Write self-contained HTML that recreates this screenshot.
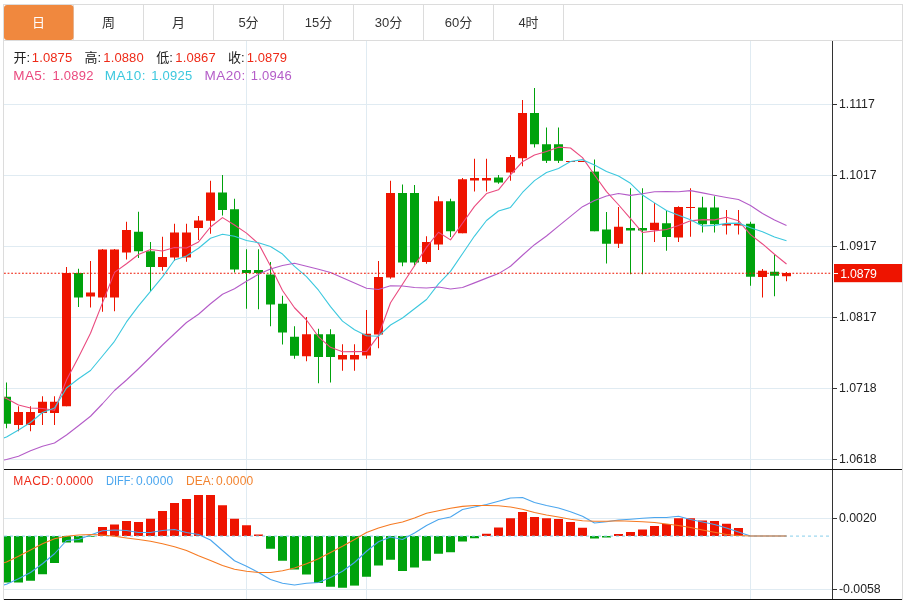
<!DOCTYPE html>
<html lang="zh"><head><meta charset="utf-8"><title>K线图</title>
<style>html,body{margin:0;padding:0;background:#fff}body{width:911px;height:600px;overflow:hidden;position:relative}svg{position:absolute;left:0;top:0;display:block}text{font-family:"Liberation Sans","Noto Sans CJK SC",sans-serif}.ax{font-size:12.3px;fill:#222}.t13{font-size:13px}.t12{font-size:12px}.tab{font-size:13px;fill:#333;text-anchor:middle}</style></head><body>
<svg width="911" height="600" viewBox="0 0 911 600">
<rect x="0" y="0" width="911" height="600" fill="#fff"/>
<g shape-rendering="crispEdges">
<rect x="3.5" y="4.5" width="899" height="600" fill="none" stroke="#dcdcdc" stroke-width="1"/>
<line x1="4" y1="40.5" x2="903" y2="40.5" stroke="#dcdcdc"/>
<line x1="73.5" y1="5" x2="73.5" y2="40" stroke="#dcdcdc"/>
<line x1="143.5" y1="5" x2="143.5" y2="40" stroke="#dcdcdc"/>
<line x1="213.5" y1="5" x2="213.5" y2="40" stroke="#dcdcdc"/>
<line x1="283.5" y1="5" x2="283.5" y2="40" stroke="#dcdcdc"/>
<line x1="353.5" y1="5" x2="353.5" y2="40" stroke="#dcdcdc"/>
<line x1="423.5" y1="5" x2="423.5" y2="40" stroke="#dcdcdc"/>
<line x1="493.5" y1="5" x2="493.5" y2="40" stroke="#dcdcdc"/>
<line x1="563.5" y1="5" x2="563.5" y2="40" stroke="#dcdcdc"/>
<line x1="4" y1="104.5" x2="832" y2="104.5" stroke="#e0ebf2"/>
<line x1="4" y1="175.5" x2="832" y2="175.5" stroke="#e0ebf2"/>
<line x1="4" y1="246.5" x2="832" y2="246.5" stroke="#e0ebf2"/>
<line x1="4" y1="317.5" x2="832" y2="317.5" stroke="#e0ebf2"/>
<line x1="4" y1="388.5" x2="832" y2="388.5" stroke="#e0ebf2"/>
<line x1="4" y1="459.5" x2="832" y2="459.5" stroke="#e0ebf2"/>
<line x1="4" y1="518.5" x2="832" y2="518.5" stroke="#e0ebf2"/>
<line x1="4" y1="589.5" x2="832" y2="589.5" stroke="#e0ebf2"/>
<line x1="246.5" y1="41" x2="246.5" y2="599" stroke="#e0ebf2"/>
<line x1="366.5" y1="41" x2="366.5" y2="599" stroke="#e0ebf2"/>
<line x1="750.5" y1="41" x2="750.5" y2="599" stroke="#e0ebf2"/>
</g>
<rect x="4" y="5" width="69.5" height="35" rx="3" ry="3" fill="#f0883e"/>
<text class="tab" x="38.5" y="26.8" fill="#fff" style="fill:#fff">日</text>
<text class="tab" x="108.5" y="26.8">周</text>
<text class="tab" x="178.5" y="26.8">月</text>
<text class="tab" x="248.5" y="26.8">5分</text>
<text class="tab" x="318.5" y="26.8">15分</text>
<text class="tab" x="388.5" y="26.8">30分</text>
<text class="tab" x="458.5" y="26.8">60分</text>
<text class="tab" x="528.5" y="26.8">4时</text>
<clipPath id="cp"><rect x="4" y="41" width="828" height="559"/></clipPath>
<g clip-path="url(#cp)">
<rect x="2.0" y="536" width="9" height="46.5" fill="#00a20c"/>
<rect x="14.0" y="536" width="9" height="46.5" fill="#00a20c"/>
<rect x="26.0" y="536" width="9" height="44.75" fill="#00a20c"/>
<rect x="38.0" y="536" width="9" height="38.25" fill="#00a20c"/>
<rect x="50.0" y="536" width="9" height="27" fill="#00a20c"/>
<rect x="62.0" y="536" width="9" height="6.5" fill="#00a20c"/>
<rect x="74.0" y="536" width="9" height="6.5" fill="#00a20c"/>
<rect x="86.0" y="536" width="9" height="0.75" fill="#00a20c"/>
<rect x="98.0" y="527" width="9" height="9" fill="#ee1400"/>
<rect x="110.0" y="524.5" width="9" height="11.5" fill="#ee1400"/>
<rect x="122.0" y="521" width="9" height="15" fill="#ee1400"/>
<rect x="134.0" y="522" width="9" height="14" fill="#ee1400"/>
<rect x="146.0" y="518.75" width="9" height="17.25" fill="#ee1400"/>
<rect x="158.0" y="511" width="9" height="25" fill="#ee1400"/>
<rect x="170.0" y="503" width="9" height="33" fill="#ee1400"/>
<rect x="182.0" y="499" width="9" height="37" fill="#ee1400"/>
<rect x="194.0" y="495" width="9" height="41" fill="#ee1400"/>
<rect x="206.0" y="495" width="9" height="41" fill="#ee1400"/>
<rect x="218.0" y="505.25" width="9" height="30.75" fill="#ee1400"/>
<rect x="230.0" y="518.75" width="9" height="17.25" fill="#ee1400"/>
<rect x="242.0" y="525.25" width="9" height="10.75" fill="#ee1400"/>
<rect x="254.0" y="534.5" width="9" height="1.5" fill="#ee1400"/>
<rect x="266.0" y="536" width="9" height="12.75" fill="#00a20c"/>
<rect x="278.0" y="536" width="9" height="24.75" fill="#00a20c"/>
<rect x="290.0" y="536" width="9" height="33.5" fill="#00a20c"/>
<rect x="302.0" y="536" width="9" height="38.5" fill="#00a20c"/>
<rect x="314.0" y="536" width="9" height="47" fill="#00a20c"/>
<rect x="326.0" y="536" width="9" height="50.75" fill="#00a20c"/>
<rect x="338.0" y="536" width="9" height="51.75" fill="#00a20c"/>
<rect x="350.0" y="536" width="9" height="49.60000000000002" fill="#00a20c"/>
<rect x="362.0" y="536" width="9" height="40.75" fill="#00a20c"/>
<rect x="374.0" y="536" width="9" height="29.5" fill="#00a20c"/>
<rect x="386.0" y="536" width="9" height="23.75" fill="#00a20c"/>
<rect x="398.0" y="536" width="9" height="35" fill="#00a20c"/>
<rect x="410.0" y="536" width="9" height="31.5" fill="#00a20c"/>
<rect x="422.0" y="536" width="9" height="24.75" fill="#00a20c"/>
<rect x="434.0" y="536" width="9" height="17.75" fill="#00a20c"/>
<rect x="446.0" y="536" width="9" height="16.25" fill="#00a20c"/>
<rect x="458.0" y="536" width="9" height="5.5" fill="#00a20c"/>
<rect x="470.0" y="536" width="9" height="2.25" fill="#00a20c"/>
<rect x="482.0" y="533.75" width="9" height="2.25" fill="#ee1400"/>
<rect x="494.0" y="527.5" width="9" height="8.5" fill="#ee1400"/>
<rect x="506.0" y="518.25" width="9" height="17.75" fill="#ee1400"/>
<rect x="518.0" y="512" width="9" height="24" fill="#ee1400"/>
<rect x="530.0" y="517" width="9" height="19" fill="#ee1400"/>
<rect x="542.0" y="518.25" width="9" height="17.75" fill="#ee1400"/>
<rect x="554.0" y="519" width="9" height="17" fill="#ee1400"/>
<rect x="566.0" y="522" width="9" height="14" fill="#ee1400"/>
<rect x="578.0" y="527.75" width="9" height="8.25" fill="#ee1400"/>
<rect x="590.0" y="536" width="9" height="2.5" fill="#00a20c"/>
<rect x="602.0" y="536" width="9" height="1.5" fill="#00a20c"/>
<rect x="614.0" y="534" width="9" height="2" fill="#ee1400"/>
<rect x="626.0" y="532" width="9" height="4" fill="#ee1400"/>
<rect x="638.0" y="529.5" width="9" height="6.5" fill="#ee1400"/>
<rect x="650.0" y="526" width="9" height="10" fill="#ee1400"/>
<rect x="662.0" y="524" width="9" height="12" fill="#ee1400"/>
<rect x="674.0" y="518.25" width="9" height="17.75" fill="#ee1400"/>
<rect x="686.0" y="518.25" width="9" height="17.75" fill="#ee1400"/>
<rect x="698.0" y="520.5" width="9" height="15.5" fill="#ee1400"/>
<rect x="710.0" y="521" width="9" height="15" fill="#ee1400"/>
<rect x="722.0" y="523.75" width="9" height="12.25" fill="#ee1400"/>
<rect x="734.0" y="528" width="9" height="8" fill="#ee1400"/>
</g>
<line x1="4" y1="536.1" x2="830" y2="536.1" stroke="#87ceeb" stroke-width="1" stroke-dasharray="3,3"/>
<g clip-path="url(#cp)">
<line x1="6.5" y1="382.5" x2="6.5" y2="428.25" stroke="#00a20c" stroke-width="1"/>
<rect x="2.0" y="396.75" width="9" height="27.0" fill="#00a20c"/>
<line x1="18.5" y1="406.25" x2="18.5" y2="431.25" stroke="#ee1400" stroke-width="1"/>
<rect x="14.0" y="412.0" width="9" height="13.0" fill="#ee1400"/>
<line x1="30.5" y1="406.25" x2="30.5" y2="431.25" stroke="#ee1400" stroke-width="1"/>
<rect x="26.0" y="412.0" width="9" height="13.0" fill="#ee1400"/>
<line x1="42.5" y1="396.25" x2="42.5" y2="425.0" stroke="#ee1400" stroke-width="1"/>
<rect x="38.0" y="401.75" width="9" height="11.25" fill="#ee1400"/>
<line x1="54.5" y1="396.25" x2="54.5" y2="425.0" stroke="#ee1400" stroke-width="1"/>
<rect x="50.0" y="401.75" width="9" height="11.25" fill="#ee1400"/>
<line x1="66.5" y1="267.0" x2="66.5" y2="406.25" stroke="#ee1400" stroke-width="1"/>
<rect x="62.0" y="273.0" width="9" height="133.25" fill="#ee1400"/>
<line x1="78.5" y1="268.75" x2="78.5" y2="307.0" stroke="#00a20c" stroke-width="1"/>
<rect x="74.0" y="273.0" width="9" height="24.5" fill="#00a20c"/>
<line x1="90.5" y1="261.0" x2="90.5" y2="307.5" stroke="#ee1400" stroke-width="1"/>
<rect x="86.0" y="292.5" width="9" height="4.0" fill="#ee1400"/>
<line x1="102.5" y1="249.0" x2="102.5" y2="311.75" stroke="#ee1400" stroke-width="1"/>
<rect x="98.0" y="249.5" width="9" height="48.0" fill="#ee1400"/>
<line x1="114.5" y1="249.0" x2="114.5" y2="311.25" stroke="#ee1400" stroke-width="1"/>
<rect x="110.0" y="249.5" width="9" height="48.0" fill="#ee1400"/>
<line x1="126.5" y1="221.75" x2="126.5" y2="259.5" stroke="#ee1400" stroke-width="1"/>
<rect x="122.0" y="230.0" width="9" height="22.5" fill="#ee1400"/>
<line x1="138.5" y1="211.75" x2="138.5" y2="258.0" stroke="#00a20c" stroke-width="1"/>
<rect x="134.0" y="231.75" width="9" height="19.5" fill="#00a20c"/>
<line x1="150.5" y1="242.0" x2="150.5" y2="291.0" stroke="#00a20c" stroke-width="1"/>
<rect x="146.0" y="251.25" width="9" height="15.75" fill="#00a20c"/>
<line x1="162.5" y1="236.75" x2="162.5" y2="270.75" stroke="#ee1400" stroke-width="1"/>
<rect x="158.0" y="257.0" width="9" height="10.0" fill="#ee1400"/>
<line x1="174.5" y1="223.75" x2="174.5" y2="261.0" stroke="#ee1400" stroke-width="1"/>
<rect x="170.0" y="232.5" width="9" height="25.0" fill="#ee1400"/>
<line x1="186.5" y1="223.75" x2="186.5" y2="261.75" stroke="#ee1400" stroke-width="1"/>
<rect x="182.0" y="232.5" width="9" height="25.0" fill="#ee1400"/>
<line x1="198.5" y1="216.0" x2="198.5" y2="240.0" stroke="#ee1400" stroke-width="1"/>
<rect x="194.0" y="220.5" width="9" height="7.5" fill="#ee1400"/>
<line x1="210.5" y1="180.75" x2="210.5" y2="233.75" stroke="#ee1400" stroke-width="1"/>
<rect x="206.0" y="192.5" width="9" height="28.25" fill="#ee1400"/>
<line x1="222.5" y1="175.0" x2="222.5" y2="215.5" stroke="#00a20c" stroke-width="1"/>
<rect x="218.0" y="192.5" width="9" height="17.5" fill="#00a20c"/>
<line x1="234.5" y1="198.75" x2="234.5" y2="272.5" stroke="#00a20c" stroke-width="1"/>
<rect x="230.0" y="209.25" width="9" height="60.25" fill="#00a20c"/>
<line x1="246.5" y1="249.25" x2="246.5" y2="308.75" stroke="#00a20c" stroke-width="1"/>
<rect x="242.0" y="270.0" width="9" height="3.0" fill="#00a20c"/>
<line x1="258.5" y1="249.25" x2="258.5" y2="309.25" stroke="#00a20c" stroke-width="1"/>
<rect x="254.0" y="270.0" width="9" height="3.0" fill="#00a20c"/>
<line x1="270.5" y1="262.0" x2="270.5" y2="326.25" stroke="#00a20c" stroke-width="1"/>
<rect x="266.0" y="274.5" width="9" height="30.0" fill="#00a20c"/>
<line x1="282.5" y1="295.75" x2="282.5" y2="344.5" stroke="#00a20c" stroke-width="1"/>
<rect x="278.0" y="303.75" width="9" height="28.75" fill="#00a20c"/>
<line x1="294.5" y1="326.25" x2="294.5" y2="358.75" stroke="#00a20c" stroke-width="1"/>
<rect x="290.0" y="336.75" width="9" height="19.0" fill="#00a20c"/>
<line x1="306.5" y1="317.0" x2="306.5" y2="361.25" stroke="#ee1400" stroke-width="1"/>
<rect x="302.0" y="334.25" width="9" height="22.0" fill="#ee1400"/>
<line x1="318.5" y1="328.75" x2="318.5" y2="383.25" stroke="#00a20c" stroke-width="1"/>
<rect x="314.0" y="334.25" width="9" height="22.75" fill="#00a20c"/>
<line x1="330.5" y1="329.25" x2="330.5" y2="382.5" stroke="#00a20c" stroke-width="1"/>
<rect x="326.0" y="334.25" width="9" height="22.75" fill="#00a20c"/>
<line x1="342.5" y1="344.25" x2="342.5" y2="370.75" stroke="#ee1400" stroke-width="1"/>
<rect x="338.0" y="355.0" width="9" height="4.5" fill="#ee1400"/>
<line x1="354.5" y1="344.25" x2="354.5" y2="370.75" stroke="#ee1400" stroke-width="1"/>
<rect x="350.0" y="355.0" width="9" height="4.5" fill="#ee1400"/>
<line x1="366.5" y1="310.0" x2="366.5" y2="358.75" stroke="#ee1400" stroke-width="1"/>
<rect x="362.0" y="333.75" width="9" height="21.75" fill="#ee1400"/>
<line x1="378.5" y1="261.0" x2="378.5" y2="348.25" stroke="#ee1400" stroke-width="1"/>
<rect x="374.0" y="277.0" width="9" height="57.5" fill="#ee1400"/>
<line x1="390.5" y1="180.75" x2="390.5" y2="278.75" stroke="#ee1400" stroke-width="1"/>
<rect x="386.0" y="193.0" width="9" height="84.5" fill="#ee1400"/>
<line x1="402.5" y1="184.5" x2="402.5" y2="266.25" stroke="#00a20c" stroke-width="1"/>
<rect x="398.0" y="193.0" width="9" height="69.5" fill="#00a20c"/>
<line x1="414.5" y1="185.0" x2="414.5" y2="266.25" stroke="#00a20c" stroke-width="1"/>
<rect x="410.0" y="193.0" width="9" height="69.5" fill="#00a20c"/>
<line x1="426.5" y1="236.25" x2="426.5" y2="263.75" stroke="#ee1400" stroke-width="1"/>
<rect x="422.0" y="242.0" width="9" height="20.0" fill="#ee1400"/>
<line x1="438.5" y1="196.25" x2="438.5" y2="250.0" stroke="#ee1400" stroke-width="1"/>
<rect x="434.0" y="201.25" width="9" height="43.25" fill="#ee1400"/>
<line x1="450.5" y1="198.75" x2="450.5" y2="237.0" stroke="#00a20c" stroke-width="1"/>
<rect x="446.0" y="201.25" width="9" height="30.0" fill="#00a20c"/>
<line x1="462.5" y1="178.0" x2="462.5" y2="233.25" stroke="#ee1400" stroke-width="1"/>
<rect x="458.0" y="179.25" width="9" height="54.0" fill="#ee1400"/>
<line x1="474.5" y1="158.75" x2="474.5" y2="191.5" stroke="#ee1400" stroke-width="1"/>
<rect x="470.0" y="178.0" width="9" height="2.5" fill="#ee1400"/>
<line x1="486.5" y1="158.75" x2="486.5" y2="191.5" stroke="#ee1400" stroke-width="1"/>
<rect x="482.0" y="178.0" width="9" height="2.5" fill="#ee1400"/>
<line x1="498.5" y1="175.0" x2="498.5" y2="183.75" stroke="#00a20c" stroke-width="1"/>
<rect x="494.0" y="177.5" width="9" height="5.0" fill="#00a20c"/>
<line x1="510.5" y1="155.0" x2="510.5" y2="180.75" stroke="#ee1400" stroke-width="1"/>
<rect x="506.0" y="157.0" width="9" height="15.5" fill="#ee1400"/>
<line x1="522.5" y1="100.0" x2="522.5" y2="166.25" stroke="#ee1400" stroke-width="1"/>
<rect x="518.0" y="113.0" width="9" height="45.25" fill="#ee1400"/>
<line x1="534.5" y1="88.0" x2="534.5" y2="147.5" stroke="#00a20c" stroke-width="1"/>
<rect x="530.0" y="113.0" width="9" height="31.25" fill="#00a20c"/>
<line x1="546.5" y1="127.5" x2="546.5" y2="163.0" stroke="#00a20c" stroke-width="1"/>
<rect x="542.0" y="144.25" width="9" height="16.55000000000001" fill="#00a20c"/>
<line x1="558.5" y1="127.5" x2="558.5" y2="163.0" stroke="#00a20c" stroke-width="1"/>
<rect x="554.0" y="144.25" width="9" height="16.55000000000001" fill="#00a20c"/>
<line x1="570.5" y1="161.0" x2="570.5" y2="162.0" stroke="#ee1400" stroke-width="1"/>
<rect x="566.0" y="161.0" width="9" height="1.0" fill="#ee1400"/>
<line x1="582.5" y1="161.0" x2="582.5" y2="162.0" stroke="#ee1400" stroke-width="1"/>
<rect x="578.0" y="161.0" width="9" height="1.0" fill="#ee1400"/>
<line x1="594.5" y1="159.5" x2="594.5" y2="231.25" stroke="#00a20c" stroke-width="1"/>
<rect x="590.0" y="171.6" width="9" height="59.650000000000006" fill="#00a20c"/>
<line x1="606.5" y1="212.0" x2="606.5" y2="263.5" stroke="#00a20c" stroke-width="1"/>
<rect x="602.0" y="229.5" width="9" height="14.25" fill="#00a20c"/>
<line x1="618.5" y1="207.0" x2="618.5" y2="248.0" stroke="#ee1400" stroke-width="1"/>
<rect x="614.0" y="226.75" width="9" height="17.0" fill="#ee1400"/>
<line x1="630.5" y1="188.25" x2="630.5" y2="274.25" stroke="#00a20c" stroke-width="1"/>
<rect x="626.0" y="228.0" width="9" height="2.5" fill="#00a20c"/>
<line x1="642.5" y1="188.25" x2="642.5" y2="274.25" stroke="#00a20c" stroke-width="1"/>
<rect x="638.0" y="228.0" width="9" height="2.5" fill="#00a20c"/>
<line x1="654.5" y1="203.0" x2="654.5" y2="242.0" stroke="#ee1400" stroke-width="1"/>
<rect x="650.0" y="222.75" width="9" height="7.25" fill="#ee1400"/>
<line x1="666.5" y1="210.5" x2="666.5" y2="250.75" stroke="#00a20c" stroke-width="1"/>
<rect x="662.0" y="223.25" width="9" height="13.75" fill="#00a20c"/>
<line x1="678.5" y1="206.25" x2="678.5" y2="242.0" stroke="#ee1400" stroke-width="1"/>
<rect x="674.0" y="207.0" width="9" height="30.5" fill="#ee1400"/>
<line x1="690.5" y1="188.25" x2="690.5" y2="236.75" stroke="#ee1400" stroke-width="1"/>
<rect x="686.0" y="207.0" width="9" height="1.0" fill="#ee1400"/>
<line x1="702.5" y1="196.75" x2="702.5" y2="232.5" stroke="#00a20c" stroke-width="1"/>
<rect x="698.0" y="207.5" width="9" height="16.75" fill="#00a20c"/>
<line x1="714.5" y1="196.25" x2="714.5" y2="232.5" stroke="#00a20c" stroke-width="1"/>
<rect x="710.0" y="207.5" width="9" height="16.75" fill="#00a20c"/>
<line x1="726.5" y1="210.0" x2="726.5" y2="234.5" stroke="#ee1400" stroke-width="1"/>
<rect x="722.0" y="224.0" width="9" height="1.5" fill="#ee1400"/>
<line x1="738.5" y1="210.0" x2="738.5" y2="234.5" stroke="#ee1400" stroke-width="1"/>
<rect x="734.0" y="224.0" width="9" height="1.5" fill="#ee1400"/>
<line x1="750.5" y1="221.75" x2="750.5" y2="285.75" stroke="#00a20c" stroke-width="1"/>
<rect x="746.0" y="223.75" width="9" height="53.0" fill="#00a20c"/>
<line x1="762.5" y1="269.0" x2="762.5" y2="297.5" stroke="#ee1400" stroke-width="1"/>
<rect x="758.0" y="270.75" width="9" height="6.25" fill="#ee1400"/>
<line x1="774.5" y1="254.5" x2="774.5" y2="296.25" stroke="#00a20c" stroke-width="1"/>
<rect x="770.0" y="271.75" width="9" height="4.0" fill="#00a20c"/>
<line x1="786.5" y1="272.0" x2="786.5" y2="281.25" stroke="#ee1400" stroke-width="1"/>
<rect x="782.0" y="273.0" width="9" height="3.25" fill="#ee1400"/>
</g>
<g clip-path="url(#cp)">
<path d="M-5.5,394.00 L6.5,398.50 L18.5,405.00 L30.5,408.00 L42.5,408.50 L54.5,410.25 L66.5,380.10 L78.5,357.20 L90.5,333.30 L102.5,302.85 L114.5,272.40 L126.5,263.80 L138.5,254.55 L150.5,249.45 L162.5,250.95 L174.5,247.55 L186.5,248.05 L198.5,241.90 L210.5,227.00 L222.5,217.60 L234.5,225.00 L246.5,233.10 L258.5,243.60 L270.5,266.00 L282.5,290.50 L294.5,307.75 L306.5,320.00 L318.5,336.80 L330.5,347.30 L342.5,351.80 L354.5,351.65 L366.5,351.55 L378.5,335.55 L390.5,302.75 L402.5,284.25 L414.5,265.75 L426.5,247.40 L438.5,232.25 L450.5,239.90 L462.5,223.25 L474.5,206.35 L486.5,193.55 L498.5,189.80 L510.5,174.95 L522.5,161.70 L534.5,154.95 L546.5,151.51 L558.5,147.17 L570.5,147.97 L582.5,157.57 L594.5,174.97 L606.5,191.56 L618.5,204.75 L630.5,218.65 L642.5,232.55 L654.5,230.85 L666.5,229.50 L678.5,225.55 L690.5,220.85 L702.5,219.60 L714.5,219.90 L726.5,217.30 L738.5,220.70 L750.5,234.65 L762.5,243.95 L774.5,254.25 L786.5,264.05" fill="none" stroke="#ea4a7f" stroke-width="1.1" stroke-linejoin="round"/>
<path d="M-5.5,441.00 L6.5,437.00 L18.5,430.00 L30.5,422.50 L42.5,412.50 L54.5,408.00 L66.5,388.00 L78.5,378.75 L90.5,370.50 L102.5,356.00 L114.5,341.32 L126.5,321.95 L138.5,305.88 L150.5,291.38 L162.5,276.90 L174.5,259.98 L186.5,255.93 L198.5,248.22 L210.5,238.22 L222.5,234.28 L234.5,236.28 L246.5,240.57 L258.5,242.75 L270.5,246.50 L282.5,254.05 L294.5,266.38 L306.5,276.55 L318.5,290.20 L330.5,306.65 L342.5,321.15 L354.5,329.70 L366.5,335.77 L378.5,336.18 L390.5,325.02 L402.5,318.02 L414.5,308.70 L426.5,299.48 L438.5,283.90 L450.5,271.32 L462.5,253.75 L474.5,236.05 L486.5,220.47 L498.5,211.03 L510.5,207.43 L522.5,192.47 L534.5,180.65 L546.5,172.53 L558.5,168.48 L570.5,161.46 L582.5,159.63 L594.5,164.96 L606.5,171.53 L618.5,175.96 L630.5,183.31 L642.5,195.06 L654.5,202.91 L666.5,210.53 L678.5,215.15 L690.5,219.75 L702.5,226.07 L714.5,225.38 L726.5,223.40 L738.5,223.12 L750.5,227.75 L762.5,231.78 L774.5,237.07 L786.5,240.68" fill="none" stroke="#3cc8de" stroke-width="1.1" stroke-linejoin="round"/>
<path d="M-5.5,462.00 L6.5,459.50 L18.5,456.25 L30.5,450.75 L42.5,446.25 L54.5,443.00 L66.5,435.00 L78.5,425.75 L90.5,416.25 L102.5,403.75 L114.5,390.50 L126.5,380.00 L138.5,368.75 L150.5,357.00 L162.5,345.00 L174.5,333.75 L186.5,322.50 L198.5,314.25 L210.5,303.75 L222.5,294.25 L234.5,288.80 L246.5,281.26 L258.5,274.31 L270.5,268.94 L282.5,265.48 L294.5,263.18 L306.5,266.24 L318.5,269.21 L330.5,272.44 L342.5,277.71 L354.5,282.99 L366.5,288.18 L378.5,289.46 L390.5,285.76 L402.5,286.04 L414.5,287.54 L426.5,288.01 L438.5,287.05 L450.5,288.99 L462.5,287.45 L474.5,282.88 L486.5,278.12 L498.5,273.60 L510.5,266.23 L522.5,255.25 L534.5,244.68 L546.5,236.00 L558.5,226.19 L570.5,216.39 L582.5,206.69 L594.5,200.50 L606.5,196.00 L618.5,193.49 L630.5,195.37 L642.5,193.77 L654.5,191.78 L666.5,191.53 L678.5,191.82 L690.5,190.60 L702.5,192.85 L714.5,195.17 L726.5,197.47 L738.5,199.54 L750.5,205.53 L762.5,213.42 L774.5,219.99 L786.5,225.60" fill="none" stroke="#b45cc8" stroke-width="1.1" stroke-linejoin="round"/>
<path d="M-5.5,587.00 L6.5,584.25 L18.5,578.75 L30.5,572.50 L42.5,563.75 L54.5,553.75 L66.5,540.50 L78.5,539.50 L90.5,535.00 L102.5,530.75 L114.5,530.00 L126.5,530.50 L138.5,532.50 L150.5,532.50 L162.5,530.50 L174.5,529.50 L186.5,532.50 L198.5,534.50 L210.5,540.00 L222.5,550.50 L234.5,560.75 L246.5,566.25 L258.5,572.50 L270.5,579.50 L282.5,583.25 L294.5,585.00 L306.5,583.25 L318.5,582.50 L330.5,577.50 L342.5,571.25 L354.5,562.50 L366.5,551.25 L378.5,541.75 L390.5,537.00 L402.5,539.50 L414.5,533.00 L426.5,525.50 L438.5,519.50 L450.5,517.00 L462.5,509.50 L474.5,507.00 L486.5,504.50 L498.5,501.25 L510.5,498.00 L522.5,497.50 L534.5,502.50 L546.5,505.50 L558.5,508.00 L570.5,511.75 L582.5,516.25 L594.5,523.00 L606.5,521.75 L618.5,520.00 L630.5,519.25 L642.5,518.25 L654.5,517.50 L666.5,517.50 L678.5,516.25 L690.5,519.50 L702.5,522.00 L714.5,524.50 L726.5,528.00 L738.5,532.00 L750.5,536.00 L762.5,536.00 L774.5,536.00 L786.5,536.00" fill="none" stroke="#4ba6ee" stroke-width="1.1" stroke-linejoin="round"/>
<path d="M-5.5,565.50 L6.5,562.00 L18.5,556.25 L30.5,550.00 L42.5,543.75 L54.5,538.75 L66.5,536.25 L78.5,535.00 L90.5,534.50 L102.5,535.00 L114.5,536.25 L126.5,538.00 L138.5,539.50 L150.5,541.25 L162.5,543.75 L174.5,546.75 L186.5,550.50 L198.5,555.75 L210.5,560.50 L222.5,565.50 L234.5,569.25 L246.5,571.25 L258.5,572.50 L270.5,572.50 L282.5,570.75 L294.5,568.00 L306.5,563.75 L318.5,558.75 L330.5,552.50 L342.5,546.25 L354.5,539.50 L366.5,532.50 L378.5,528.00 L390.5,524.50 L402.5,522.00 L414.5,518.00 L426.5,513.25 L438.5,510.80 L450.5,508.20 L462.5,506.40 L474.5,505.50 L486.5,505.50 L498.5,505.75 L510.5,507.00 L522.5,509.25 L534.5,512.50 L546.5,515.00 L558.5,517.00 L570.5,519.25 L582.5,520.75 L594.5,521.25 L606.5,521.25 L618.5,520.75 L630.5,521.25 L642.5,521.75 L654.5,522.50 L666.5,524.00 L678.5,525.50 L690.5,527.50 L702.5,530.00 L714.5,532.25 L726.5,534.50 L738.5,535.50 L750.5,536.00 L762.5,536.00 L774.5,536.00 L786.5,536.00" fill="none" stroke="#f67a22" stroke-width="1.1" stroke-linejoin="round"/>
</g>
<line x1="4" y1="273.25" x2="832" y2="273.25" stroke="#ee1400" stroke-width="1.1" stroke-dasharray="1.8,1.8"/>
<g shape-rendering="crispEdges">
<line x1="832.5" y1="41" x2="832.5" y2="600" stroke="#333"/>
<line x1="4" y1="469.5" x2="902" y2="469.5" stroke="#111"/>
<line x1="4" y1="599.5" x2="902" y2="599.5" stroke="#111"/>
<line x1="833" y1="104.5" x2="837" y2="104.5" stroke="#333"/>
<line x1="833" y1="175.5" x2="837" y2="175.5" stroke="#333"/>
<line x1="833" y1="246.5" x2="837" y2="246.5" stroke="#333"/>
<line x1="833" y1="317.5" x2="837" y2="317.5" stroke="#333"/>
<line x1="833" y1="388.5" x2="837" y2="388.5" stroke="#333"/>
<line x1="833" y1="459.5" x2="837" y2="459.5" stroke="#333"/>
<line x1="833" y1="518.5" x2="837" y2="518.5" stroke="#333"/>
<line x1="833" y1="589.5" x2="837" y2="589.5" stroke="#333"/>
</g>
<text class="ax" x="839" y="108.0">1.1117</text>
<text class="ax" x="839" y="179.0">1.1017</text>
<text class="ax" x="839" y="250.0">1.0917</text>
<text class="ax" x="839" y="321.0">1.0817</text>
<text class="ax" x="839" y="392.0">1.0718</text>
<text class="ax" x="839" y="463.0">1.0618</text>
<text class="ax" x="839" y="522.0">0.0020</text>
<text class="ax" x="839" y="593.0">-0.0058</text>
<rect x="834" y="264" width="68" height="18.2" fill="#ee1400"/>
<line x1="834" y1="273.5" x2="838" y2="273.5" stroke="#fff"/>
<text class="ax" x="840.2" y="277.6" letter-spacing="-0.18" style="fill:#fff">1.0879</text>
<text class="t13" x="13.5" y="61.5" fill="#222" letter-spacing="0">开:</text>
<text class="t13" x="31.8" y="61.5" fill="#ee2a18" letter-spacing="0.12">1.0875</text>
<text class="t13" x="84.5" y="61.5" fill="#222" letter-spacing="0">高:</text>
<text class="t13" x="103.3" y="61.5" fill="#ee2a18" letter-spacing="0.12">1.0880</text>
<text class="t13" x="156.3" y="61.5" fill="#222" letter-spacing="0">低:</text>
<text class="t13" x="175.3" y="61.5" fill="#ee2a18" letter-spacing="0.12">1.0867</text>
<text class="t13" x="228" y="61.5" fill="#222" letter-spacing="0">收:</text>
<text class="t13" x="246.7" y="61.5" fill="#ee2a18" letter-spacing="0.12">1.0879</text>
<text x="13.3" y="79.7" fill="#ea4a7f" font-size="13.5" letter-spacing="0.35">MA5:</text>
<text x="52.4" y="79.7" fill="#ea4a7f" font-size="13" letter-spacing="0.28">1.0892</text>
<text x="104.7" y="79.7" fill="#3cc8de" font-size="13.5" letter-spacing="0.45">MA10:</text>
<text x="151.2" y="79.7" fill="#3cc8de" font-size="13" letter-spacing="0.28">1.0925</text>
<text x="204.5" y="79.7" fill="#b45cc8" font-size="13.5" letter-spacing="0.45">MA20:</text>
<text x="250.7" y="79.7" fill="#b45cc8" font-size="13" letter-spacing="0.28">1.0946</text>
<text class="t12" x="13.3" y="484.8" fill="#ee2a18" letter-spacing="0.45">MACD:</text>
<text class="t12" x="55.9" y="484.8" fill="#ee2a18" letter-spacing="0.1">0.0000</text>
<text class="t12" x="106" y="484.8" fill="#4ba6ee" letter-spacing="0" textLength="27.6" lengthAdjust="spacingAndGlyphs">DIFF:</text>
<text class="t12" x="135.9" y="484.8" fill="#4ba6ee" letter-spacing="0.1">0.0000</text>
<text class="t12" x="186" y="484.8" fill="#f2832f" letter-spacing="0">DEA:</text>
<text class="t12" x="215.9" y="484.8" fill="#f2832f" letter-spacing="0.1">0.0000</text>
</svg></body></html>
